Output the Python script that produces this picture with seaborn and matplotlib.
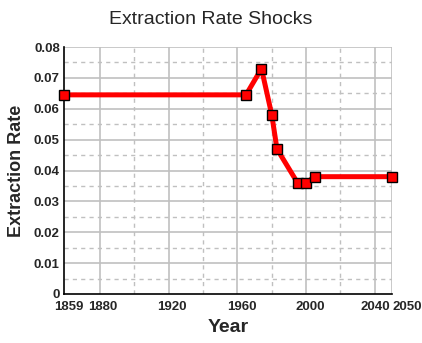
import matplotlib
matplotlib.use("Agg")
import matplotlib.pyplot as plt
import matplotlib.transforms as mtransforms
import seaborn as sns
import pandas as pd

years = [1859, 1965, 1974, 1980, 1983, 1995, 2000, 2005, 2050]
rates = [0.0645, 0.0645, 0.073, 0.058, 0.047, 0.036, 0.036, 0.038, 0.038]
xticks = [1859, 1880, 1920, 1960, 2000, 2040, 2050]
yticks = [0, 0.01, 0.02, 0.03, 0.04, 0.05, 0.06, 0.07, 0.08]
ytick_labels = ["0", "0.01", "0.02", "0.03", "0.04", "0.05", "0.06", "0.07", "0.08"]

sns.set_style("white")
plt.rcParams['font.family'] = ['Liberation Sans', 'DejaVu Sans']

df = pd.DataFrame({"Year": years, "Rate": rates})

fig = plt.figure(figsize=(4.22, 3.43), dpi=100)
ax = fig.add_axes([64/422, 49/343, 328/422, 247/343])

# grid
for x in [1880, 1920, 1960, 2000, 2040, 2050]:
    ax.axvline(x, color="#c0c0c0", lw=1.2, zorder=0)
for x in [1900, 1940, 1980, 2020]:
    ax.axvline(x, color="#c0c0c0", lw=1, ls=(0, (3, 3)), zorder=0)
for y in yticks[1:]:
    ax.axhline(y, color="#c0c0c0", lw=1.2, zorder=0)
for i in range(8):
    ax.axhline(0.005 + 0.01 * i, color="#c0c0c0", lw=1, ls=(0, (3, 3)), zorder=0)

sns.lineplot(data=df, x="Year", y="Rate", ax=ax, color="#ff0000", lw=3.6,
             marker="s", markersize=6.5, markerfacecolor="#ff0000",
             markeredgecolor="black", markeredgewidth=1.0, zorder=3, clip_on=False)

ax.set_xlim(1859, 2050)
ax.set_ylim(0, 0.08)
ax.set_xticks(xticks)
ax.set_xticklabels([str(v) for v in xticks], fontweight="bold", fontsize=9.5)
ax.set_yticks(yticks)
ax.set_yticklabels(ytick_labels, fontweight="bold", fontsize=9.5)
ax.tick_params(length=0, pad=3)
ax.tick_params(axis="x", pad=5)

# shift x tick labels slightly to avoid overlap, as in the reference
shifts = [5, 3, 3, 4, 4, 0, 15]
for lab, dx in zip(ax.get_xticklabels(), shifts):
    lab.set_transform(lab.get_transform() + mtransforms.ScaledTranslation(dx / 100, 0, fig.dpi_scale_trans))

for s in ["top", "right"]:
    ax.spines[s].set_visible(False)
for s in ["left", "bottom"]:
    ax.spines[s].set_color("black")
    ax.spines[s].set_linewidth(1.2)

ax.set_xlabel("Year", fontweight="bold", fontsize=14, labelpad=4)
ax.set_ylabel("Extraction Rate", fontweight="bold", fontsize=13, labelpad=6)
fig.text(211/422, 1 - 20/343, "Extraction Rate Shocks", ha="center", va="center", fontsize=14)

fig.savefig("out.png", dpi=100)
